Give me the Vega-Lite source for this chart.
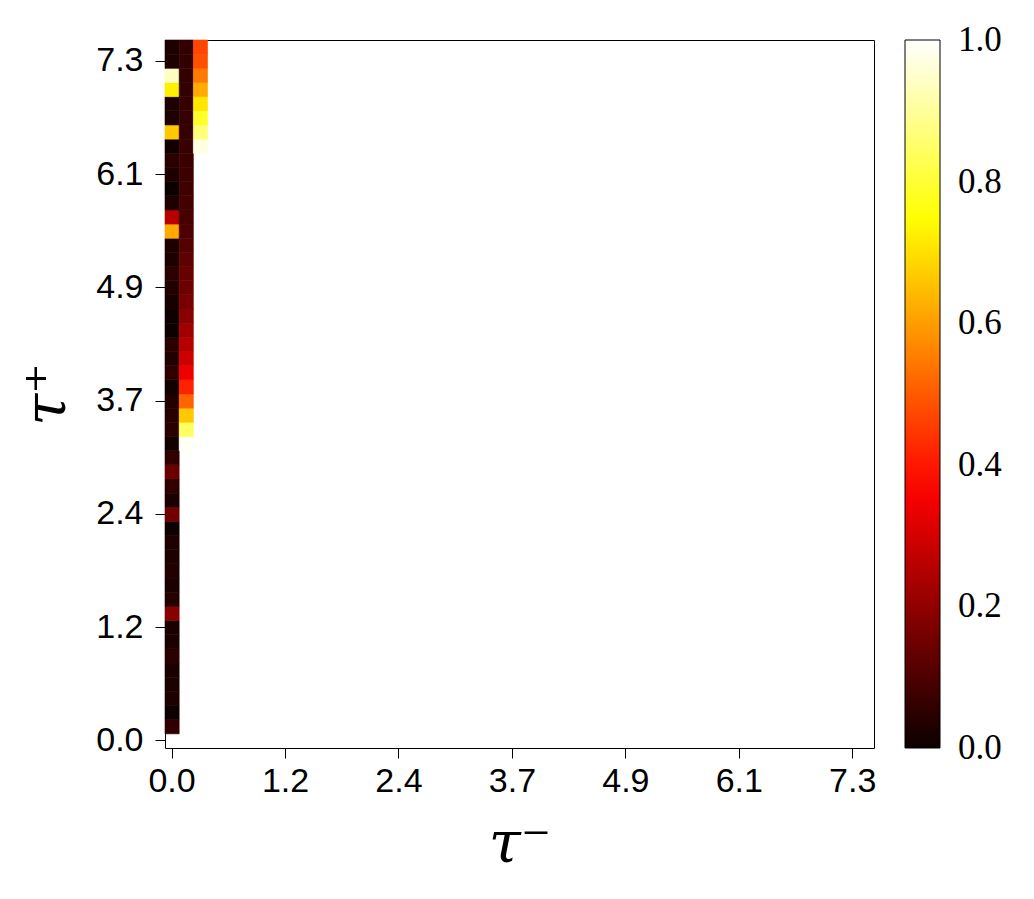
{
  "$schema": "https://vega.github.io/schema/vega-lite/v6.json",
  "width": 709,
  "height": 708,
  "autosize": {"type": "none"},
  "padding": {"left": 165, "top": 40, "right": 160, "bottom": 151},
  "background": "white",
  "config": {
    "view": {"stroke": "black", "strokeWidth": 1},
    "axis": {
      "grid": false,
      "domain": false,
      "tickSize": 10,
      "tickColor": "black",
      "tickWidth": 1,
      "labelColor": "black",
      "labelFont": "Liberation Sans",
      "labelFontSize": 34,
      "titleFont": "DejaVu Serif",
      "titleFontStyle": "italic",
      "titleFontWeight": "normal",
      "titleFontSize": 58,
      "titleColor": "black"
    }
  },
  "data": {
    "values": [
      {"i": 0, "j": 1, "v": 0.055}, {"i": 0, "j": 2, "v": 0.005}, {"i": 0, "j": 3, "v": 0.027},
      {"i": 0, "j": 4, "v": 0.027}, {"i": 0, "j": 5, "v": 0.022}, {"i": 0, "j": 6, "v": 0.047},
      {"i": 0, "j": 7, "v": 0.025}, {"i": 0, "j": 8, "v": 0.022}, {"i": 0, "j": 9, "v": 0.187},
      {"i": 0, "j": 10, "v": 0.038}, {"i": 0, "j": 11, "v": 0.022}, {"i": 0, "j": 12, "v": 0.035},
      {"i": 0, "j": 13, "v": 0.03}, {"i": 0, "j": 14, "v": 0.03}, {"i": 0, "j": 15, "v": 0.005},
      {"i": 0, "j": 16, "v": 0.155}, {"i": 0, "j": 17, "v": 0.025}, {"i": 0, "j": 18, "v": 0.055},
      {"i": 0, "j": 19, "v": 0.142}, {"i": 0, "j": 20, "v": 0.055}, {"i": 0, "j": 21, "v": 0.01},
      {"i": 0, "j": 22, "v": 0.047}, {"i": 0, "j": 23, "v": 0.045}, {"i": 0, "j": 24, "v": 0.035},
      {"i": 0, "j": 25, "v": 0.01}, {"i": 0, "j": 26, "v": 0.055}, {"i": 0, "j": 27, "v": 0.035},
      {"i": 0, "j": 28, "v": 0.047}, {"i": 0, "j": 29, "v": 0.005}, {"i": 0, "j": 30, "v": 0.005},
      {"i": 0, "j": 31, "v": 0.02}, {"i": 0, "j": 32, "v": 0.035}, {"i": 0, "j": 33, "v": 0.047},
      {"i": 0, "j": 34, "v": 0.03}, {"i": 0, "j": 35, "v": 0.03}, {"i": 0, "j": 36, "v": 0.619},
      {"i": 0, "j": 37, "v": 0.259}, {"i": 0, "j": 38, "v": 0.03}, {"i": 0, "j": 39, "v": 0.0},
      {"i": 0, "j": 40, "v": 0.03}, {"i": 0, "j": 41, "v": 0.047}, {"i": 0, "j": 42, "v": 0.01},
      {"i": 0, "j": 43, "v": 0.664}, {"i": 0, "j": 44, "v": 0.03}, {"i": 0, "j": 45, "v": 0.03},
      {"i": 0, "j": 46, "v": 0.724}, {"i": 0, "j": 47, "v": 0.937}, {"i": 0, "j": 48, "v": 0.03},
      {"i": 0, "j": 49, "v": 0.03},
      {"i": 1, "j": 21, "v": 0.99}, {"i": 1, "j": 22, "v": 0.842}, {"i": 1, "j": 23, "v": 0.664},
      {"i": 1, "j": 24, "v": 0.514}, {"i": 1, "j": 25, "v": 0.416}, {"i": 1, "j": 26, "v": 0.34},
      {"i": 1, "j": 27, "v": 0.289}, {"i": 1, "j": 28, "v": 0.253}, {"i": 1, "j": 29, "v": 0.223},
      {"i": 1, "j": 30, "v": 0.19}, {"i": 1, "j": 31, "v": 0.165}, {"i": 1, "j": 32, "v": 0.15},
      {"i": 1, "j": 33, "v": 0.14}, {"i": 1, "j": 34, "v": 0.127}, {"i": 1, "j": 35, "v": 0.11},
      {"i": 1, "j": 36, "v": 0.1}, {"i": 1, "j": 37, "v": 0.09}, {"i": 1, "j": 38, "v": 0.085},
      {"i": 1, "j": 39, "v": 0.08}, {"i": 1, "j": 40, "v": 0.074}, {"i": 1, "j": 41, "v": 0.07},
      {"i": 1, "j": 42, "v": 0.068}, {"i": 1, "j": 43, "v": 0.066}, {"i": 1, "j": 44, "v": 0.064},
      {"i": 1, "j": 45, "v": 0.062}, {"i": 1, "j": 46, "v": 0.06}, {"i": 1, "j": 47, "v": 0.06},
      {"i": 1, "j": 48, "v": 0.058}, {"i": 1, "j": 49, "v": 0.058},
      {"i": 2, "j": 42, "v": 0.97}, {"i": 2, "j": 43, "v": 0.87}, {"i": 2, "j": 44, "v": 0.79},
      {"i": 2, "j": 45, "v": 0.71}, {"i": 2, "j": 46, "v": 0.62}, {"i": 2, "j": 47, "v": 0.547},
      {"i": 2, "j": 48, "v": 0.485}, {"i": 2, "j": 49, "v": 0.47}
    ]
  },
  "mark": {"type": "rect", "strokeWidth": 0.6, "stroke": {"expr": "scale('color', datum.v)"}},
  "encoding": {
    "x": {
      "field": "i",
      "type": "ordinal",
      "scale": {
        "domain": [0,1,2,3,4,5,6,7,8,9,10,11,12,13,14,15,16,17,18,19,20,21,22,23,24,25,26,27,28,29,30,31,32,33,34,35,36,37,38,39,40,41,42,43,44,45,46,47,48,49],
        "paddingInner": 0,
        "paddingOuter": 0
      },
      "axis": {
        "values": [0, 8, 16, 24, 32, 40, 48],
        "labelExpr": "format(datum.value * 7.5 / 49, '.1f')",
        "labelAngle": 0,
        "labelPadding": 6,
        "title": "τ⁻",
        "titlePadding": 17
      }
    },
    "y": {
      "field": "j",
      "type": "ordinal",
      "scale": {
        "domain": [0,1,2,3,4,5,6,7,8,9,10,11,12,13,14,15,16,17,18,19,20,21,22,23,24,25,26,27,28,29,30,31,32,33,34,35,36,37,38,39,40,41,42,43,44,45,46,47,48,49],
        "reverse": true,
        "paddingInner": 0,
        "paddingOuter": 0
      },
      "axis": {
        "values": [0, 8, 16, 24, 32, 40, 48],
        "labelExpr": "format(datum.value * 7.5 / 49, '.1f')",
        "labelPadding": 12,
        "title": "τ⁺",
        "titlePadding": 19
      }
    },
    "color": {
      "field": "v",
      "type": "quantitative",
      "scale": {
        "domain": [0, 0.365, 0.746, 1],
        "range": ["#0b0000", "#ff0000", "#ffff00", "#ffffff"],
        "interpolate": "rgb"
      },
      "legend": {
        "title": null,
        "orient": "none",
        "legendX": 740,
        "legendY": 0,
        "direction": "vertical",
        "gradientLength": 708,
        "gradientThickness": 35,
        "gradientStrokeColor": "black",
        "gradientStrokeWidth": 1,
        "values": [0, 0.2, 0.4, 0.6, 0.8, 1.0],
        "format": ".1f",
        "labelFont": "Liberation Serif",
        "labelFontSize": 35,
        "labelColor": "black",
        "labelOffset": 18,
        "labelOverlap": false,
        "padding": 0,
        "encode": {"labels": {"update": {"baseline": {"value": "middle"}}}}
      }
    }
  }
}
